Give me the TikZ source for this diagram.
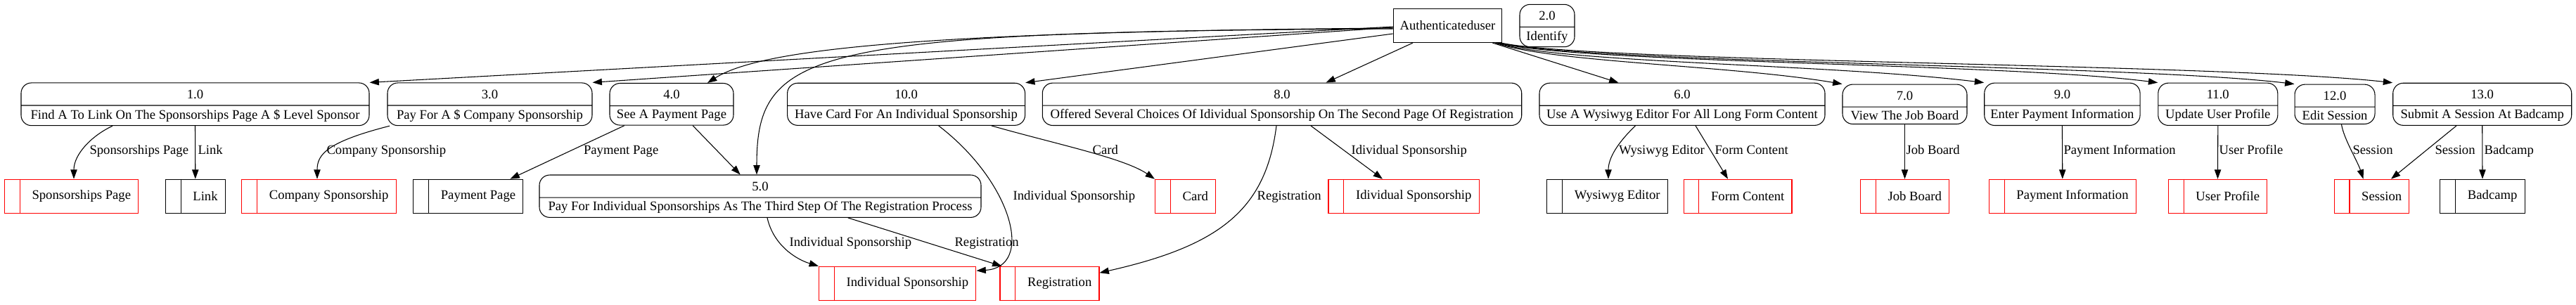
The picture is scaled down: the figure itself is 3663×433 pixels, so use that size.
\documentclass[tikz,border=0pt]{standalone}
\usepackage{fontspec}
\setmainfont{Liberation Serif}
\usepackage{xcolor}
\usepackage{tikz}
\usetikzlibrary{arrows.meta, shapes.multipart, calc}

\tikzset{
    proc/.style={draw, line width=0.8pt, rounded corners=11pt, rectangle split, rectangle split parts=2,
        text height=12.5pt, text depth=3.2pt, inner xsep=4pt, inner ysep=3.775pt},
    store/.style={draw=red, line width=0.8pt, rectangle split, rectangle split horizontal, rectangle split parts=2,
        text height=12.5pt, text depth=3.2pt, inner xsep=8pt, inner ysep=10.15pt,
        execute at begin node={\hspace*{4.5pt}}},
    blackstore/.style={store, draw=black},
    actor/.style={draw, line width=0.8pt, minimum width=116pt, minimum height=36pt,
        text height=12.5pt, text depth=3.2pt},
    flow/.style={-{Triangle[length=10pt, width=7pt]}, line width=0.8pt},
    lbl/.style={anchor=west, inner sep=0pt, text height=12.5pt, text depth=3.2pt}
}

\begin{document}
\begin{tikzpicture}[x=0.75pt, y=-0.75pt, font=\fontsize{14}{17}\selectfont]
        \useasboundingbox (0,0) rectangle (3663,433);

        \node[actor] (auth) at (2058.5,36.5) {Authenticateduser};
        \node[proc, minimum width=58.5pt] (p2) at (2200,36.5) {2.0\nodepart{two}Identify};

        \node[proc, minimum width=371.25pt] (p1) at (277.5,148.3) {1.0\nodepart{two}Find A To Link On The Sponsorships Page A \$ Level Sponsor};
        \node[proc, minimum width=218.25pt] (p3) at (696.5,148.3) {3.0\nodepart{two}Pay For A \$ Company Sponsorship};
        \node[proc, minimum width=132pt] (p4) at (955,148.3) {4.0\nodepart{two}See A Payment Page};
        \node[proc, minimum width=253.5pt] (p10) at (1288.6,148.3) {10.0\nodepart{two}Have Card For An Individual Sponsorship};
        \node[proc, minimum width=511.1pt] (p8) at (1823,148.3) {8.0\nodepart{two}Offered Several Choices Of Idividual Sponsorship On The Second Page Of Registration};
        \node[proc, minimum width=304.5pt] (p6) at (2392,148.3) {6.0\nodepart{two}Use A Wysiwyg Editor For All Long Form Content};
        \node[proc, minimum width=132.75pt] (p7) at (2708.5,148.3) {7.0\nodepart{two}View The Job Board};
        \node[proc, minimum width=166pt] (p9) at (2932.4,148.3) {9.0\nodepart{two}Enter Payment Information};
        \node[proc, minimum width=127.5pt] (p11) at (3153.8,148.3) {11.0\nodepart{two}Update User Profile};
        \node[proc, minimum width=85.5pt] (p12) at (3320,148.3) {12.0\nodepart{two}Edit Session};
        \node[proc, minimum width=190.5pt] (p13) at (3529.7,148.3) {13.0\nodepart{two}Submit A Session At Badcamp};
        \node[proc, minimum width=471pt] (p5) at (1081,279.2) {5.0\nodepart{two}Pay For Individual Sponsorships As The Third Step Of The Registration Process};

        \node[store] (sSP) at (101.6,279.2) {\nodepart{two}Sponsorships Page};
        \node[blackstore] (sLink) at (277.8,279.2) {\nodepart{two}Link};
        \node[store] (sCS) at (453.5,279.2) {\nodepart{two}Company Sponsorship};
        \node[blackstore] (sPP) at (665.8,279.2) {\nodepart{two}Payment Page};
        \node[store] (sCard) at (1685.5,279.2) {\nodepart{two}Card};
        \node[store] (sIdi) at (1996,279.2) {\nodepart{two}Idividual Sponsorship};
        \node[blackstore] (sWE) at (2285.5,279.2) {\nodepart{two}Wysiwyg Editor};
        \node[store] (sFC) at (2471,279.2) {\nodepart{two}Form Content};
        \node[store] (sJB) at (2708.5,279.2) {\nodepart{two}Job Board};
        \node[store] (sPI) at (2932.8,279.2) {\nodepart{two}Payment Information};
        \node[store] (sUP) at (3153.5,279.2) {\nodepart{two}User Profile};
        \node[store] (sSes) at (3372.5,279.2) {\nodepart{two}Session};
        \node[blackstore] (sBad) at (3530,279.2) {\nodepart{two}Badcamp};
        \node[store] (sIS) at (1276.2,403.2) {\nodepart{two}Individual Sponsorship};
        \node[store] (sReg) at (1492.5,403.2) {\nodepart{two}Registration};

        \draw[flow] ($(auth.west)+(0,1.5)$) -- (p1.north east);
        \draw[flow] ($(auth.west)+(0,2.5)$) -- (p3.north east);
        \draw[flow] ($(auth.west)+(0,3.5)$) .. controls +(-680,5) and +(74,-47.3) .. ($(p4.north)+(51,0)$);
        \draw[flow] ($(auth.west)+(0,4.5)$) .. controls +(-831,4) and +(0,-178.3) .. ($(p5.north)+(-5,0)$);
        \draw[flow] ($(auth.west)+(0,11.5)$) -- (p10.north east);
        \draw[flow] ($(auth.south)+(-49.5,0)$) -- ($(p8.north)+(62.5,0)$);
        \draw[flow] ($(auth.south east)+(-14,0)$) -- ($(p6.north)+(-90.5,0)$);
        \draw[flow] ($(auth.south east)+(-10,0)$) .. controls +(80,28) and +(-160,-27) .. (p7.north west);
        \draw[flow] ($(auth.south east)+(-8,0)$) .. controls +(90,29) and +(-222,-27) .. (p9.north west);
        \draw[flow] ($(auth.south east)+(-6,0)$) .. controls +(110,29) and +(-219,-28) .. (p11.north west);
        \draw[flow] ($(auth.south east)+(-4,0)$) .. controls +(120,29) and +(-233,-28) .. (p12.north west);
        \draw[flow] ($(auth.south east)+(-2,0)$) .. controls +(130,28) and +(-253,-28) .. (p13.north west);

        \draw[flow] ($(p1.south)+(-117.5,0)$) .. controls +(-30,14) and +(0,-35) .. ($(sSP.north)+(3.4,0)$) node[lbl] at (127,213) {Sponsorships Page};
        \draw[flow] (p1.south) -- (sLink.north) node[lbl] at (281,213) {Link};
        \draw[flow] ($(p3.south)+(-142.5,0)$) .. controls +(-89,22.7) and +(0,-35) .. ($(sCS.north)+(-2.5,0)$) node[lbl] at (464,213) {Company Sponsorship};
        \draw[flow] ($(p4.south)+(-67,0)$) -- ($(sPP.north)+(59.7,0)$) node[lbl] at (829.5,213) {Payment Page};
        \draw[flow] ($(p4.south)+(30,0)$) -- ($(p5.north)+(-28.3,0)$);
        \draw[flow] ($(p5.south)+(10,0)$) .. controls +(9,40) and +(-30.6,-9.2) .. (sIS.north west) node[lbl] at (1122,344) {Individual Sponsorship};
        \draw[flow] ($(p5.south)+(124.7,0)$) -- ($(sReg.north west)+(3,0)$) node[lbl] at (1357,344) {Registration};
        \draw[flow] ($(p10.south)+(46,0)$) .. controls +(105.4,80.7) and +(83,-5) .. ($(sIS.east)+(0,-18)$) node[lbl] at (1440,278) {Individual Sponsorship};
        \draw[flow] ($(p10.south)+(121.2,0)$) .. controls +(90,25.7) and +(-44,-30) .. (sCard.north west) node[lbl] at (1553,213) {Card};
        \draw[flow] ($(p8.south)+(-8,0)$) .. controls +(-15,120.7) and +(169,-38.2) .. ($(sReg.east)+(0,-15)$) node[lbl] at (1787,278) {Registration};
        \draw[flow] ($(p8.south)+(41,0)$) -- ($(sIdi.north)+(-30,0)$) node[lbl] at (1921,213) {Idividual Sponsorship};
        \draw[flow] ($(p6.south)+(-66.5,0)$) .. controls +(-25,24) and +(0,-30) .. ($(sWE.north)+(1.5,0)$) node[lbl] at (2301.5,213) {Wysiwyg Editor};
        \draw[flow] ($(p6.south)+(19,0)$) -- ($(sFC.north)+(-14,0)$) node[lbl] at (2438,213) {Form Content};
        \draw[flow] (p7.south) -- (sJB.north) node[lbl] at (2710,213) {Job Board};
        \draw[flow] (p9.south) -- (sPI.north) node[lbl] at (2934,213) {Payment Information};
        \draw[flow] (p11.south) -- (sUP.north) node[lbl] at (3155,213) {User Profile};
        \draw[flow] ($(p12.south)+(9.5,0)$) .. controls +(3,20) and +(-8,-25) .. ($(sSes.north)+(-12,0)$) node[lbl] at (3345,213) {Session};
        \draw[flow] ($(p13.south)+(-36.7,0)$) -- ($(sSes.north)+(27.5,0)$) node[lbl] at (3462,213) {Session};
        \draw[flow] (p13.south) -- (sBad.north) node[lbl] at (3532,213) {Badcamp};
\end{tikzpicture}
\end{document}
